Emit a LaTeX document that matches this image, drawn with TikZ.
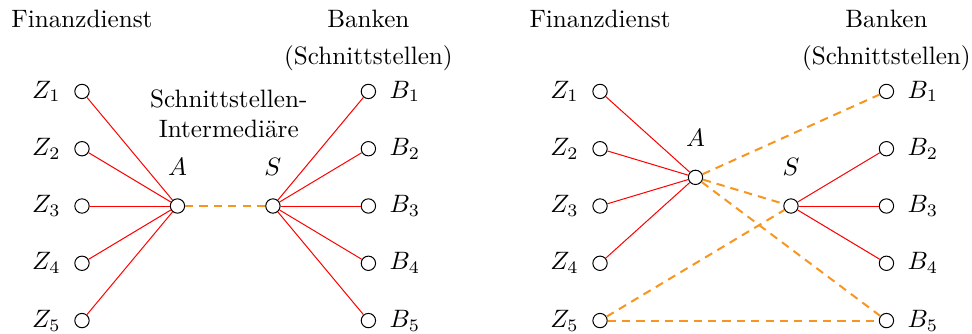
\documentclass[tikz,border=0pt]{standalone}
\usepackage{tikz}
\definecolor{dorange}{RGB}{246,150,32}
\tikzset{
  pt/.style={circle,draw=black,fill=white,minimum size=5.7pt,inner sep=0pt,line width=0.4pt},
  lbl/.style={inner sep=0pt},
  redline/.style={draw=red,line width=0.4pt},
  orline/.style={draw=dorange,line width=0.8pt,dash pattern=on 3.3pt off 2.4pt},
  hd/.style={anchor=base,inner sep=0pt}
}
\begin{document}
\begin{tikzpicture}
\useasboundingbox (-1.145,-1.774) rectangle (12.43,2.877);
% ---------- left panel ----------
\foreach \i/\y in {1/1.6,2/0.8,3/0,4/-0.8,5/-1.6}{
  \node[pt] (lZ\i) at (0,\y) {};
  \node[lbl,anchor=east] (lZt\i) at (-0.29,\y) {$Z_{\i}$};
  \node[pt] (lB\i) at (4,\y) {};
  \node[lbl,anchor=west] (lBt\i) at (4.29,\y) {$B_{\i}$};
}
\node[pt] (lA) at (4/3,0) {};
\node[pt] (lS) at (8/3,0) {};
\node[hd] (lAt) at (4/3,0.43) {$A$};
\node[hd] (lSt) at (8/3,0.43) {$S$};
\node[hd] (lF) at (0,2.49) {Finanzdienst};
\node[hd] (lBa) at (4,2.49) {Banken};
\node[hd] (lBs) at (4,1.97) {(Schnittstellen)};
\node[hd] (lI1) at (2.05,1.37) {Schnittstellen-};
\node[hd] (lI2) at (2.05,0.95) {Intermediäre};
\foreach \i in {1,...,5}{
  \draw[redline] (lZ\i) -- (lA);
  \draw[redline] (lS) -- (lB\i);
}
\draw[orline] (lA) -- (lS);
% ---------- right panel ----------
\begin{scope}[xshift=7.235cm]
\foreach \i/\y in {1/1.6,2/0.8,3/0,4/-0.8,5/-1.6}{
  \node[pt] (rZ\i) at (0,\y) {};
  \node[lbl,anchor=east] (rZt\i) at (-0.29,\y) {$Z_{\i}$};
  \node[pt] (rB\i) at (4,\y) {};
  \node[lbl,anchor=west] (rBt\i) at (4.29,\y) {$B_{\i}$};
}
\node[pt] (rA) at (4/3,0.4) {};
\node[pt] (rS) at (8/3,0) {};
\node[hd] (rAt) at (4/3,0.83) {$A$};
\node[hd] (rSt) at (8/3,0.43) {$S$};
\node[hd] (rF) at (0,2.49) {Finanzdienst};
\node[hd] (rBa) at (4,2.49) {Banken};
\node[hd] (rBs) at (4,1.97) {(Schnittstellen)};
\foreach \i in {1,...,4}{
  \draw[redline] (rZ\i) -- (rA);
}
\foreach \i in {2,3,4}{
  \draw[redline] (rS) -- (rB\i);
}
\draw[orline] (rA) -- (rB1);
\draw[orline] (rA) -- (rS);
\draw[orline] (rA) -- (rB5);
\draw[orline] (rZ5) -- (rS);
\draw[orline] (rZ5) -- (rB5);
\end{scope}
\end{tikzpicture}
\end{document}
